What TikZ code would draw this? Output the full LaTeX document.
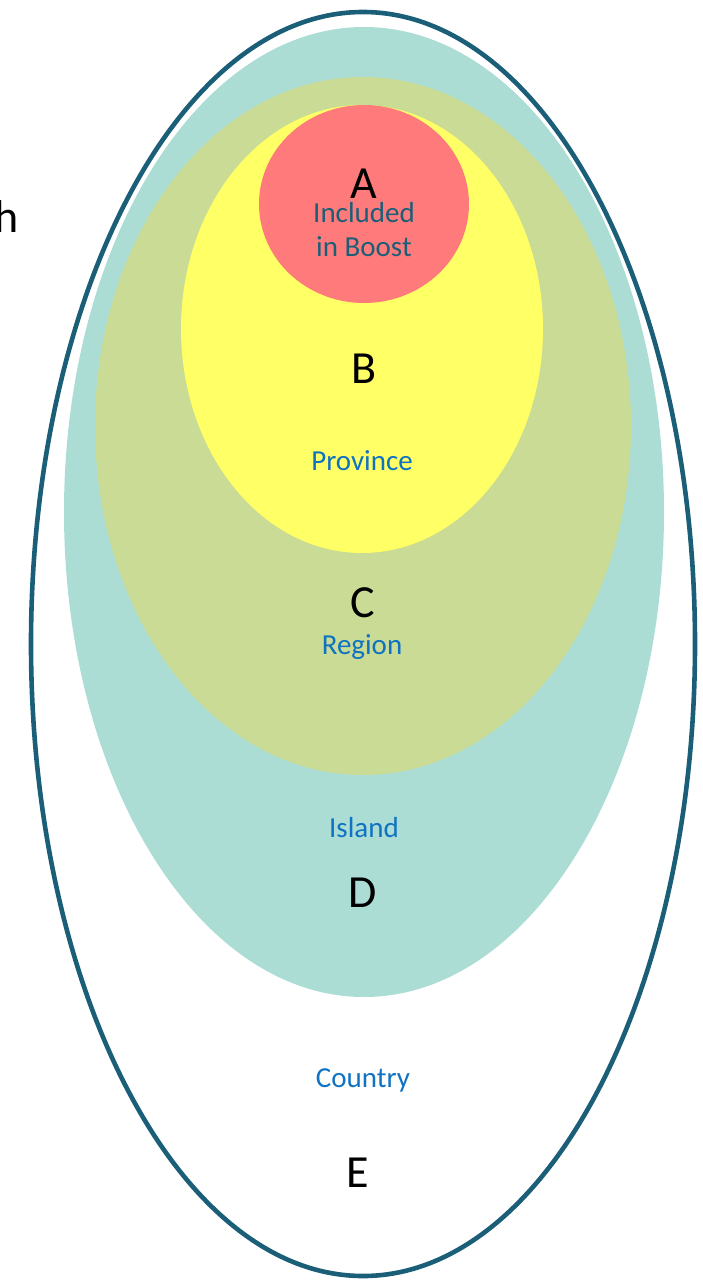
\documentclass[tikz,border=0pt]{standalone}
\usepackage{fontspec}
\setmainfont{Carlito}
\definecolor{rimcol}{HTML}{1B5E78}
\definecolor{islandcol}{HTML}{ABDDD5}
\definecolor{regioncol}{HTML}{C9DB94}
\definecolor{provcol}{HTML}{FFFF66}
\definecolor{boostcol}{HTML}{FF7B7B}
\definecolor{labelblue}{HTML}{0F72C2}
\begin{document}
\begin{tikzpicture}[x=1pt,y=-1pt,
  letter/.style={anchor=base,inner sep=0pt,font=\fontsize{46}{46}\selectfont,text=black},
  tag/.style={anchor=base,inner sep=0pt,font=\fontsize{29}{29}\selectfont,text=labelblue},
  boosttag/.style={anchor=base,inner sep=0pt,font=\fontsize{29}{29}\selectfont,text=rimcol}]
\useasboundingbox (0,0) rectangle (702,1280);
% nested regions, largest first
\fill[islandcol] (364,512) ellipse [x radius=300, y radius=485];
\fill[regioncol] (363,426) ellipse [x radius=268, y radius=349];
\fill[provcol] (362,329) ellipse [x radius=181, y radius=224];
\fill[boostcol] (364,204) ellipse [x radius=105, y radius=99];
\draw[rimcol,line width=4.6pt] (363,644) ellipse [x radius=332, y radius=632];
% labels
\node[letter] (la) at (364,198) {A};
\node[boosttag] (inc1) at (364,222) {Included};
\node[boosttag] (inc2) at (364,256) {in Boost};
\node[letter] (lb) at (364,383) {B};
\node[tag] (prov) at (362,470) {Province};
\node[letter] (lc) at (363,617) {C};
\node[tag] (reg) at (362,654) {Region};
\node[tag] (isl) at (364,837) {Island};
\node[letter] (ld) at (363,907) {D};
\node[tag] (ctry) at (363,1087) {Country};
\node[letter] (le) at (358,1187) {E};
\node[letter,anchor=base east] (hh) at (19,232) {h};
\end{tikzpicture}
\end{document}
